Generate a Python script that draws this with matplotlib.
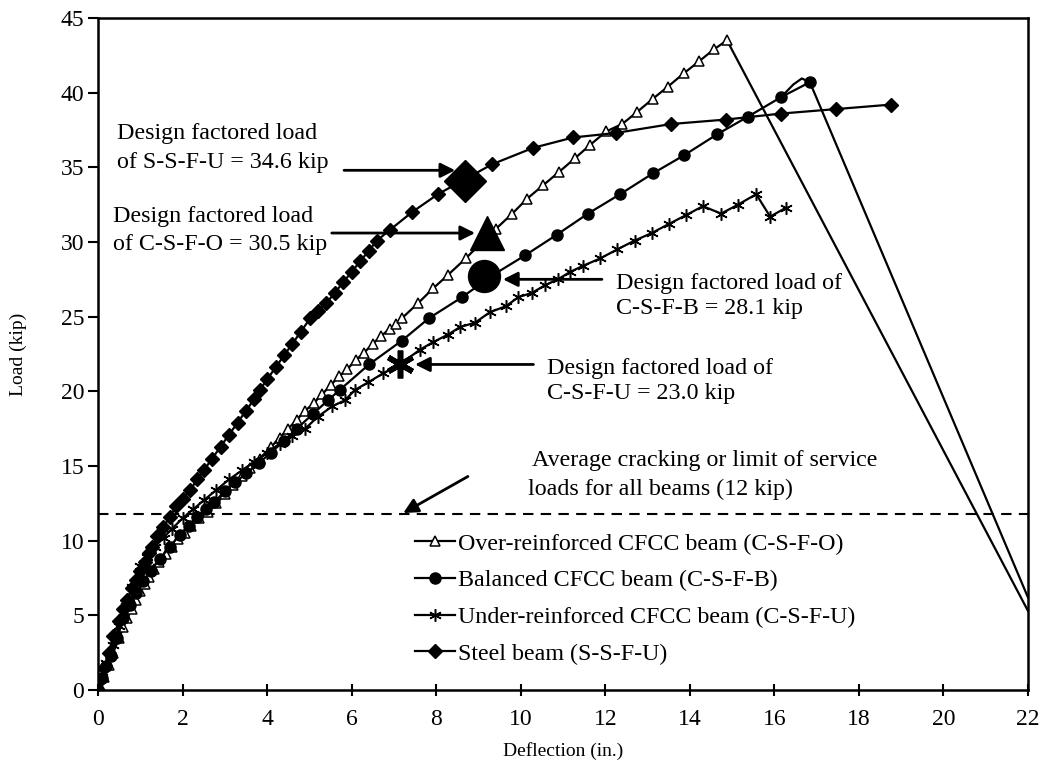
import matplotlib
matplotlib.use('Agg')
import matplotlib.pyplot as plt

plt.rcParams['font.family'] = ['Liberation Serif', 'DejaVu Serif']

# ---- data (deflection in., load kip) ----
# Over-reinforced CFCC beam (C-S-F-O)
over_x = [0, 0.05, 0.15, 0.25, 0.36, 0.5, 0.6, 0.69, 0.8, 0.9, 1.0, 1.1, 1.2, 1.32, 1.45,
          1.6, 1.75, 1.9, 2.05, 2.2, 2.4, 2.6, 2.8, 3.0, 3.2, 3.4, 3.6, 3.83, 4.1, 4.3,
          4.5, 4.7, 4.9, 5.1, 5.3, 5.5, 5.7, 5.9, 6.1, 6.3, 6.5, 6.7, 6.9, 7.05, 7.19,
          7.57, 7.93, 8.28, 8.7, 9.05, 9.42, 9.8, 10.15, 10.53, 10.91, 11.28, 11.64,
          12.02, 12.4, 12.75, 13.13, 13.48, 13.86, 14.22, 14.57, 14.88]
over_y = [0, 0.2, 0.9, 1.7, 2.5, 3.5, 4.2, 4.8, 5.4, 6.0, 6.6, 7.1, 7.6, 8.1, 8.6,
          9.1, 9.6, 10.1, 10.5, 11.0, 11.5, 11.9, 12.5, 13.1, 13.7, 14.3, 14.9, 15.5, 16.3, 16.9,
          17.5, 18.1, 18.7, 19.2, 19.8, 20.4, 21.0, 21.5, 22.1, 22.6, 23.2, 23.7, 24.2, 24.5, 24.9,
          25.9, 26.9, 27.8, 28.9, 29.9, 30.9, 31.9, 32.9, 33.8, 34.7, 35.6, 36.5,
          37.4, 37.9, 38.7, 39.6, 40.4, 41.3, 42.1, 42.9, 43.5]
over_drop_x = [14.88, 22.0]
over_drop_y = [43.5, 5.3]

# Balanced CFCC beam (C-S-F-B)
bal_x = [0, 0.1, 0.2, 0.3, 0.45, 0.6, 0.75, 0.9, 1.07, 1.25, 1.47, 1.7, 1.94, 2.15, 2.34,
         2.55, 2.75, 3.0, 3.25, 3.5, 3.8, 4.1, 4.4, 4.7, 5.09, 5.44, 5.72, 6.41, 7.19,
         7.83, 8.61, 9.35, 10.1, 10.86, 11.59, 12.35, 13.13, 13.86, 14.64, 15.38, 16.16, 16.84]
bal_y = [0, 0.8, 1.6, 2.3, 3.5, 4.8, 5.7, 6.5, 7.3, 8.0, 8.8, 9.6, 10.4, 11.0, 11.6,
         12.1, 12.6, 13.3, 13.9, 14.5, 15.2, 15.9, 16.7, 17.5, 18.5, 19.4, 20.1, 21.8, 23.4,
         24.9, 26.3, 27.8, 29.1, 30.5, 31.9, 33.2, 34.6, 35.8, 37.2, 38.4, 39.7, 40.7]
bal_drop_x = [16.16, 16.45, 16.65, 16.84, 22.0]
bal_drop_y = [39.7, 40.55, 40.95, 40.7, 6.2]

# Under-reinforced CFCC beam (C-S-F-U)
under_x = [0, 0.1, 0.2, 0.35, 0.5, 0.65, 0.8, 0.99, 1.15, 1.35, 1.55, 1.75, 2.0, 2.25, 2.5,
           2.8, 3.1, 3.4, 3.7, 4.0, 4.3, 4.6, 4.9, 5.2, 5.54, 5.84, 6.08, 6.39, 6.74, 7.14,
           7.62, 7.93, 8.28, 8.56, 8.92, 9.27, 9.65, 9.94, 10.27, 10.57, 10.88, 11.17, 11.47,
           11.88, 12.28, 12.7, 13.1, 13.5, 13.91, 14.31, 14.74, 15.14, 15.57, 15.9, 16.28]
under_y = [0, 0.9, 1.8, 3.0, 4.3, 5.6, 6.9, 8.3, 8.9, 9.6, 10.2, 10.8, 11.5, 12.1, 12.7,
           13.4, 14.1, 14.7, 15.3, 15.9, 16.5, 17.0, 17.5, 18.3, 19.0, 19.4, 20.1, 20.6, 21.2, 21.8,
           22.8, 23.3, 23.8, 24.3, 24.6, 25.3, 25.7, 26.3, 26.6, 27.1, 27.5, 28.0, 28.4,
           28.9, 29.5, 30.1, 30.6, 31.2, 31.8, 32.4, 31.9, 32.5, 33.2, 31.7, 32.3]

# Steel beam (S-S-F-U)
steel_x = [0, 0.05, 0.15, 0.25, 0.36, 0.5, 0.6, 0.69, 0.8, 0.9, 1.0, 1.1, 1.2, 1.28, 1.4,
           1.54, 1.7, 1.85, 2.0, 2.18, 2.35, 2.5, 2.7, 2.9, 3.1, 3.3, 3.5, 3.7, 3.83, 4.0,
           4.2, 4.4, 4.6, 4.8, 5.02, 5.2, 5.4, 5.6, 5.8, 6.0, 6.2, 6.4, 6.6, 6.9, 7.43,
           8.04, 9.32, 10.29, 11.24, 12.25, 13.56, 14.86, 16.16, 17.46, 18.76]
steel_y = [0, 0.7, 1.5, 2.5, 3.6, 4.6, 5.4, 6.0, 6.8, 7.4, 8.0, 8.6, 9.2, 9.6, 10.3,
           10.9, 11.6, 12.3, 12.8, 13.4, 14.1, 14.7, 15.5, 16.3, 17.1, 17.9, 18.7, 19.5, 20.1, 20.8,
           21.6, 22.4, 23.2, 24.0, 24.9, 25.4, 25.9, 26.6, 27.3, 28.0, 28.7, 29.4, 30.1, 30.8, 32.0,
           33.2, 35.2, 36.3, 37.0, 37.3, 37.9, 38.2, 38.6, 38.9, 39.2]

# design factored load points (marker positions as drawn)
design_x = {'S': 8.68, 'O': 9.2, 'B': 9.13, 'U': 7.14}
design_y = {'S': 34.1, 'O': 30.6, 'B': 27.7, 'U': 21.8}

cracking_load = 11.8

asterisk = (6, 2, 0)

fig = plt.figure(figsize=(10.43, 7.65), dpi=100)
ax = fig.add_axes([0.094, 0.098, 0.8916, 0.8785])

lw = 1.6
ax.plot(over_drop_x, over_drop_y, color='black', lw=lw, zorder=2)
ax.plot(bal_drop_x, bal_drop_y, color='black', lw=lw, zorder=2)

ax.plot(over_x, over_y, color='black', lw=lw, marker='^', ms=7.5, mfc='white',
        mec='black', mew=1.1, label='Over-reinforced CFCC beam (C-S-F-O)', zorder=3)
ax.plot(bal_x, bal_y, color='black', lw=lw, marker='o', ms=8,
        label='Balanced CFCC beam (C-S-F-B)', zorder=3)
ax.plot(under_x, under_y, color='black', lw=lw, marker=asterisk, ms=9, mew=1.1,
        label='Under-reinforced CFCC beam (C-S-F-U)', zorder=3)
ax.plot(steel_x, steel_y, color='black', lw=lw, marker='D', ms=7,
        label='Steel beam (S-S-F-U)', zorder=3)

# big design load markers
ax.plot(design_x['S'], design_y['S'], marker='D', ms=21, color='black', zorder=5)
ax.plot(design_x['O'], design_y['O'], marker='^', ms=24, color='black', zorder=5)
ax.plot(design_x['B'], design_y['B'], marker='o', ms=23, color='black', zorder=5)
ax.plot(design_x['U'], design_y['U'], marker=asterisk, ms=20, mew=4, color='black', zorder=5)

ax.axhline(cracking_load, color='black', lw=1.5, ls=(0, (5, 3.5)), zorder=1)

fs = 17
fl = 14
fa = 17.3
arrow = dict(arrowstyle='-|>', color='black', lw=2, mutation_scale=22, shrinkA=0, shrinkB=0)
ax.annotate('', xy=(8.45, 34.8), xytext=(5.82, 34.8), arrowprops=arrow)
ax.annotate('', xy=(8.92, 30.6), xytext=(5.53, 30.6), arrowprops=arrow)
ax.annotate('', xy=(9.58, 27.5), xytext=(11.92, 27.5), arrowprops=arrow)
ax.annotate('', xy=(7.5, 21.8), xytext=(10.3, 21.8), arrowprops=arrow)
ax.annotate('', xy=(7.22, 11.85), xytext=(8.75, 14.3), arrowprops=arrow)

ax.text(0.45, 36.3, 'Design factored load\nof S-S-F-U = 34.6 kip', fontsize=fa,
        ha='left', va='center', linespacing=1.45)
ax.text(0.355, 30.75, 'Design factored load\nof C-S-F-O = 30.5 kip', fontsize=fa,
        ha='left', va='center', linespacing=1.45)
ax.text(12.25, 26.4, 'Design factored load of\nC-S-F-B = 28.1 kip', fontsize=fa,
        ha='left', va='center', linespacing=1.28)
ax.text(10.62, 20.7, 'Design factored load of\nC-S-F-U = 23.0 kip', fontsize=fa,
        ha='left', va='center', linespacing=1.28)
ax.text(10.27, 15.4, 'Average cracking or limit of service', fontsize=fa, ha='left', va='center')
ax.text(10.17, 13.46, 'loads for all beams (12 kip)', fontsize=fa, ha='left', va='center')

ax.set_xlim(0, 22)
ax.set_ylim(0, 45)
ax.set_xticks(range(0, 23, 2))
ax.set_yticks(range(0, 46, 5))
ax.tick_params(axis='x', direction='inout', length=9, width=1.5, labelsize=fs, pad=9)
ax.tick_params(axis='y', direction='out', length=7, width=1.5, labelsize=fs, pad=3)
for sp in ax.spines.values():
    sp.set_linewidth(1.8)

ax.set_xlabel('Deflection (in.)', fontsize=fl, labelpad=9)
ax.set_ylabel('Load (kip)', fontsize=fl, labelpad=24)

ax.legend(loc='upper left', bbox_to_anchor=(0.341, 0.234), frameon=False, fontsize=fa,
          handlelength=1.65, handletextpad=0.12, labelspacing=0.62, borderaxespad=0,
          borderpad=0)

fig.savefig('out.png', dpi=100)
